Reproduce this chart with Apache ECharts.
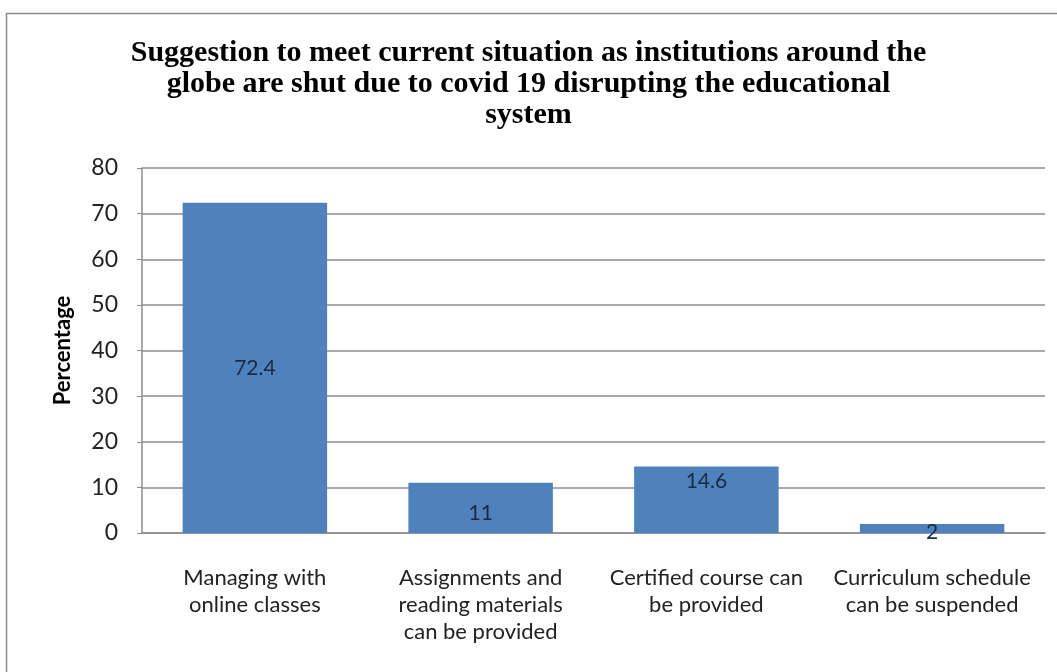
<!DOCTYPE html>
<html>
<head>
<meta charset="utf-8">
<script src="https://cdn.jsdelivr.net/npm/echarts@6/dist/echarts.min.js"></script>
<style>html,body{margin:0;padding:0;background:#fff;}#c{width:1057px;height:672px;}</style>
</head>
<body>
<div id="c"></div>
<script>
const titleText = "Suggestion to meet current situation as institutions around the\nglobe are shut due to covid 19 disrupting the educational\nsystem";
const categories = [
  "Managing with\nonline classes",
  "Assignments and\nreading materials\ncan be provided",
  "Certified course can\nbe provided",
  "Curriculum schedule\ncan be suspended"
];
const values = [72.4, 11, 14.6, 2];
const yTicks = [0, 10, 20, 30, 40, 50, 60, 70, 80];
const yAxisName = "Percentage";

const labelOffsets = [[0, 0], [0, 5], [0, -18], [0, 4]];

const chart = echarts.init(document.getElementById('c'), null, {renderer: 'canvas'});
chart.setOption({
  animation: false,
  backgroundColor: '#fff',
  graphic: [{
    type: 'rect', left: 4, top: 11, shape: {width: 1070, height: 700},
    style: {fill: 'none', stroke: '#8c8c8c', lineWidth: 1.5}, silent: true
  }],
  title: {
    text: titleText, left: 'center', top: 33,
    textStyle: {fontFamily: 'Liberation Serif', fontWeight: 'bold', fontSize: 30, lineHeight: 31, color: '#000'}
  },
  grid: {left: 142, right: 12, top: 168, bottom: 139},
  xAxis: {
    type: 'category', data: categories,
    axisLine: {show: true, lineStyle: {color: '#8c8c8c', width: 1.5}},
    axisTick: {show: false},
    axisLabel: {interval: 0, margin: 31, fontFamily: 'Lato', fontSize: 22, lineHeight: 27, color: '#222'}
  },
  yAxis: {
    type: 'value', min: yTicks[0], max: yTicks[yTicks.length - 1], interval: 10,
    name: yAxisName, nameLocation: 'middle', nameGap: 68, nameRotate: 90,
    nameTextStyle: {fontFamily: 'Lato', fontWeight: 'bold', fontSize: 22, color: '#000'},
    axisLine: {show: true, lineStyle: {color: '#8c8c8c', width: 1.5}},
    axisTick: {show: true, length: 5, inside: false, lineStyle: {color: '#8c8c8c'}},
    splitLine: {show: true, lineStyle: {color: '#8c8c8c', width: 1.5}},
    axisLabel: {margin: 24, fontFamily: 'Lato', fontSize: 23, color: '#222'}
  },
  series: [{
    type: 'bar',
    data: values.map((v, i) => ({value: v, label: {offset: labelOffsets[i]}})),
    barCategoryGap: '36%',
    itemStyle: {color: '#4F81BD'},
    label: {show: true, position: 'inside', fontFamily: 'Lato', fontSize: 21, color: '#1a2a44'}
  }]
});
</script>
</body>
</html>
